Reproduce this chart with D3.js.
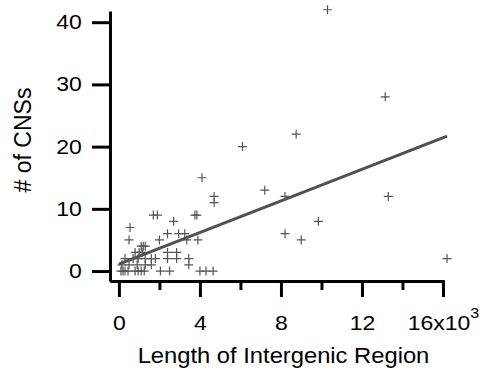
<!DOCTYPE html>
<html>
<head>
<meta charset="utf-8">
<script src="https://cdn.jsdelivr.net/npm/d3@7"></script>
<style>
  body { margin: 0; background: #fff; }
  svg { display: block; font-family: "Liberation Sans", Arial, sans-serif; }
</style>
</head>
<body>
<div id="chart-area"></div>
<script>
// length of intergenic region (x 1000) and number of CNSs
var lengthK = [0.10, 0.20, 0.30, 0.45, 0.80, 0.95, 1.10, 1.25,
    0.15, 0.50, 0.90, 1.30, 1.60,
    0.30, 0.70, 0.95, 1.30, 1.60, 1.80,
    0.80, 1.00, 1.15,
    1.10, 1.20, 1.30,
    0.50, 0.55, 1.70, 1.90,
    2.00, 2.40, 2.70, 2.95, 3.25, 3.35, 3.90, 3.75, 3.85,
    2.40, 2.85, 2.40, 2.85, 3.45, 3.45,
    2.05, 2.50, 4.00, 4.30, 4.65,
    4.10, 4.70, 4.70,
    6.10, 7.20, 8.20, 8.20, 8.75, 9.00, 9.85, 10.30, 13.15, 13.30, 16.20];
var cnsCount = [0, 0, 0, 0, 0, 0, 0, 0,
    1, 1, 1, 1, 1,
    2, 2, 2, 2, 2, 2,
    3, 3, 3,
    4, 4, 4,
    5, 7, 9, 9,
    5, 6, 8, 6, 6, 5, 5, 9, 9,
    3, 3, 2, 2, 2, 1,
    0, 0, 0, 0, 0,
    15, 12, 11,
    20, 13, 12, 6, 22, 5, 8, 42, 28, 12, 2];

// linear fit end points
var fitX = [0, 16.2];
var fitY = [1.1, 21.7];

var xMajor = [0, 4, 8, 12, 16];
var xMinor = [2, 6, 10, 14];
var yMajor = [0, 10, 20, 30, 40];

var width = 484, height = 373;

var svg = d3.select("#chart-area")
    .append("svg")
        .attr("width", width)
        .attr("height", height);

var x = d3.scaleLinear()
    .domain([-0.44, 16.05])
    .range([110, 444]);

var y = d3.scaleLinear()
    .domain([-1.6, 41.8])
    .range([281, 11]);

// minor x ticks
svg.append("g")
    .attr("class", "x minor")
    .attr("transform", "translate(0,281)")
    .call(d3.axisBottom(x).tickValues(xMinor).tickSize(9).tickSizeOuter(0).tickFormat(""));

// X axis
var xAxisCall = d3.axisBottom(x)
    .tickValues(xMajor)
    .tickSize(16)
    .tickSizeOuter(0)
    .tickFormat((d) => d === 16 ? "16x10" : d);

var xAxis = svg.append("g")
    .attr("class", "x axis")
    .attr("transform", "translate(0,281)")
    .call(xAxisCall);

xAxis.selectAll("text")
    .attr("y", 49)
    .attr("dy", "0")
    .attr("transform", "scale(1.15,1)")
    .filter((d) => d === 16)
    .append("tspan")
        .attr("dy", -12)
        .attr("font-size", "14px")
        .text("3");

// Y axis
var yAxisCall = d3.axisLeft(y)
    .tickValues(yMajor)
    .tickSize(18)
    .tickSizeOuter(0);

var yAxis = svg.append("g")
    .attr("class", "y axis")
    .attr("transform", "translate(110,0)")
    .call(yAxisCall);

yAxis.selectAll("text")
    .attr("x", -24.5)
    .attr("transform", "scale(1.15,1)");

svg.selectAll(".axis path, .axis line, .minor path, .minor line")
    .attr("stroke", "#000")
    .attr("stroke-width", 3);

svg.selectAll(".axis text")
    .attr("font-size", "20px")
    .attr("font-family", "Liberation Sans, Arial, sans-serif")
    .attr("fill", "#000");

// fit line
svg.append("line")
    .attr("x1", x(fitX[0]))
    .attr("y1", y(fitY[0]))
    .attr("x2", x(fitX[1]))
    .attr("y2", y(fitY[1]))
    .attr("stroke", "#505050")
    .attr("stroke-width", 3);

// points as + markers
var pts = lengthK.map((d, i) => ({len: d, cns: cnsCount[i]}));

svg.append("g")
    .selectAll("path")
    .data(pts)
    .enter()
    .append("path")
        .attr("d", (d) => {
            var cx = x(d.len), cy = y(d.cns);
            return "M" + (cx - 4.5) + "," + cy + "H" + (cx + 4.5) +
                "M" + cx + "," + (cy - 4.5) + "V" + (cy + 4.5);
        })
        .attr("stroke", "#555")
        .attr("stroke-width", 1.2)
        .attr("fill", "none");

// X Label
svg.append("text")
    .attr("x", 283.5 / 1.08)
    .attr("y", 363)
    .attr("font-size", "22px")
    .attr("text-anchor", "middle")
    .attr("transform", "scale(1.08,1)")
    .text("Length of Intergenic Region");

// Y Label
svg.append("text")
    .attr("x", -140)
    .attr("y", 31)
    .attr("font-size", "23px")
    .attr("text-anchor", "middle")
    .attr("transform", "rotate(-90)")
    .text("# of CNSs");
</script>
</body>
</html>
